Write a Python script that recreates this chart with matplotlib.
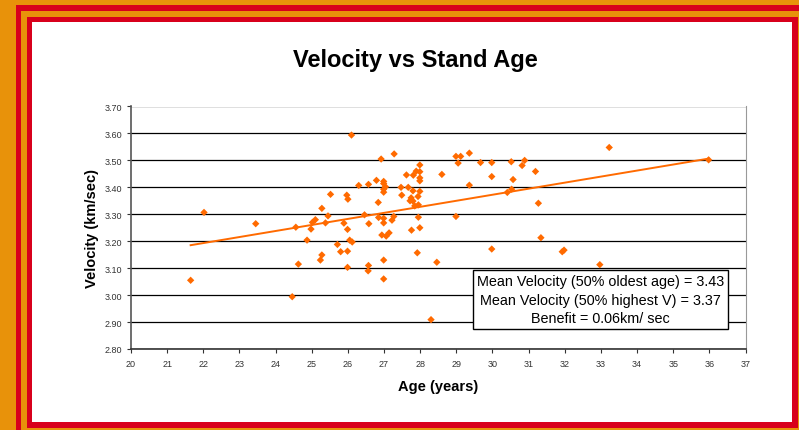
import matplotlib.pyplot as plt
import matplotlib.patches as patches
import numpy as np

# ===================== data =====================
age = [21.65, 22.02, 23.45, 24.46, 24.56, 24.63, 24.87, 24.98, 25.02, 25.10,
       25.24, 25.28, 25.28, 25.38, 25.45, 25.52, 25.71, 25.80, 25.89, 25.97,
       25.99, 25.99, 25.99, 26.00, 26.05, 26.10, 26.12, 26.30, 26.46, 26.56,
       26.57, 26.57, 26.58, 26.79, 26.84, 26.85, 26.92, 26.94, 26.99, 26.99,
       26.99, 26.99, 26.99, 26.99, 26.99, 26.99, 27.04, 27.06, 27.14, 27.22,
       27.27, 27.28, 27.47, 27.49, 27.62, 27.67, 27.72, 27.75, 27.76, 27.80,
       27.80, 27.81, 27.85, 27.89, 27.92, 27.94, 27.95, 27.95, 27.99, 27.99,
       27.99, 27.99, 27.99, 27.99, 28.30, 28.46, 28.60, 28.99, 28.99, 29.05,
       29.12, 29.36, 29.36, 29.67, 29.98, 29.98, 29.98, 30.41, 30.52, 30.53,
       30.57, 30.82, 30.89, 31.19, 31.27, 31.34, 31.93, 31.98, 32.97, 33.23,
       35.98]
velocity = [3.055, 3.307, 3.265, 2.994, 3.252, 3.115, 3.204, 3.245, 3.270, 3.280,
            3.130, 3.149, 3.322, 3.268, 3.294, 3.374, 3.188, 3.161, 3.267, 3.371,
            3.244, 3.163, 3.103, 3.356, 3.204, 3.594, 3.197, 3.407, 3.298, 3.090,
            3.411, 3.110, 3.265, 3.426, 3.344, 3.288, 3.505, 3.223, 3.422, 3.414,
            3.393, 3.382, 3.285, 3.268, 3.130, 3.060, 3.402, 3.219, 3.231, 3.278,
            3.292, 3.524, 3.400, 3.371, 3.446, 3.400, 3.350, 3.361, 3.241, 3.387,
            3.349, 3.445, 3.331, 3.460, 3.157, 3.366, 3.335, 3.289, 3.483, 3.458,
            3.435, 3.424, 3.385, 3.250, 2.909, 3.122, 3.448, 3.515, 3.292, 3.490,
            3.515, 3.527, 3.408, 3.492, 3.492, 3.440, 3.171, 3.381, 3.495, 3.393,
            3.429, 3.481, 3.500, 3.459, 3.341, 3.213, 3.161, 3.167, 3.113, 3.548,
            3.502]

x_ticks = list(range(20, 38))
y_ticks = [2.80, 2.90, 3.00, 3.10, 3.20, 3.30, 3.40, 3.50, 3.60, 3.70]

box_text = ('Mean Velocity (50% oldest age) = 3.43\n'
            'Mean Velocity (50% highest V) = 3.37\n'
            'Benefit = 0.06km/ sec')

# ===================== figure + slide frame =====================
plt.rcParams['font.family'] = ['Liberation Sans', 'DejaVu Sans']
W, H = 799, 431
fig = plt.figure(figsize=(W / 100, H / 100), dpi=100)
fig.patch.set_facecolor('#E8920A')

def frame_rect(x0, y0, x1, y1, color):
    # pixel box (top-left origin) -> figure fraction
    fig.patches.append(patches.Rectangle((x0 / W, 1 - y1 / H), (x1 - x0) / W, (y1 - y0) / H,
                                         transform=fig.transFigure, facecolor=color,
                                         edgecolor='none', zorder=-5))

frame_rect(16, 6, 820, 450, '#D8001C')
frame_rect(21, 12, 815, 445, '#E8920A')
frame_rect(27, 18, 798, 429, '#D8001C')
frame_rect(32, 23, 792, 423, 'white')

# ===================== scatter chart =====================
ax = fig.add_axes([131 / W, 1 - 350 / H, (745.5 - 131) / W, (350 - 107.5) / H])
ax.set_zorder(2)
ax.set_facecolor('none')

ax.scatter(age, velocity, marker='D', s=14, color='#FF6A00', edgecolors='none', zorder=3)

# linear trendline
k, b = np.polyfit(age, velocity, 1)
xs = np.array([min(age), max(age)])
ax.plot(xs, k * xs + b, color='#FF6A00', linewidth=1.4, zorder=2)

ax.set_xlim(20, 37)
ax.set_ylim(2.80, 3.70)
ax.set_xticks(x_ticks)
ax.set_yticks(y_ticks)
ax.set_yticklabels([f'{v:.2f}' for v in y_ticks])
ax.tick_params(axis='both', labelsize=6.5, labelcolor='#333333', color='#333333',
               length=3, width=0.8, direction='out')
ax.tick_params(axis='x', pad=4)
ax.grid(axis='y', color='black', linewidth=0.9)
ax.set_axisbelow(True)
ax.spines['top'].set_visible(False)
ax.spines['left'].set_color('#555555')
ax.spines['bottom'].set_color('#333333')
ax.spines['right'].set_color('#999999')
for s in ['left', 'bottom']:
    ax.spines[s].set_linewidth(1.2)

ax.set_xlabel('Age (years)', fontsize=10.5, fontweight='bold', labelpad=8)
ax.set_ylabel('Velocity (km/sec)', fontsize=10.5, fontweight='bold', labelpad=4)

fig.text(415 / W, 1 - 61 / H, 'Velocity vs Stand Age', fontsize=17, fontweight='bold',
         ha='center', va='center', zorder=3)

ax.text(0.764, 0.204, box_text, transform=ax.transAxes, ha='center', va='center',
        fontsize=10.4, linespacing=1.38, zorder=5,
        bbox=dict(boxstyle='square,pad=0.28', facecolor='white', edgecolor='black', linewidth=1))

plt.savefig('out.png', dpi=100, facecolor=fig.get_facecolor())
